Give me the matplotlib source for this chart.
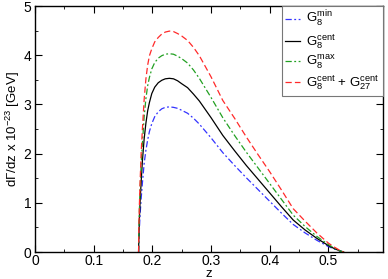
import matplotlib
matplotlib.use("Agg")
import matplotlib.pyplot as plt
from matplotlib.ticker import MultipleLocator

plt.rcParams['font.family'] = ['Liberation Sans', 'DejaVu Sans']
plt.rcParams['mathtext.fontset'] = 'custom'
plt.rcParams['mathtext.rm'] = 'Liberation Sans'
plt.rcParams['mathtext.it'] = 'Liberation Sans'

# values
z = [0.1765, 0.177, 0.178, 0.179, 0.181, 0.183, 0.186, 0.189, 0.192, 0.195,
     0.199, 0.204, 0.210, 0.216, 0.222, 0.229, 0.236, 0.243, 0.250, 0.260,
     0.270, 0.280, 0.300, 0.320, 0.340, 0.360, 0.380, 0.400, 0.420, 0.440,
     0.460, 0.480, 0.500, 0.510, 0.520, 0.526]
g8_min = [0, 0.20, 0.50, 0.75, 1.10, 1.40, 1.80, 2.07, 2.28, 2.45,
          2.61, 2.75, 2.85, 2.91, 2.94, 2.95, 2.94, 2.92, 2.88, 2.82,
          2.72, 2.60, 2.32, 2.02, 1.76, 1.51, 1.27, 1.03, 0.79, 0.56,
          0.39, 0.24, 0.11, 0.06, 0.02, 0]
g8_cent = [0, 0.30, 0.70, 1.00, 1.45, 1.85, 2.30, 2.62, 2.87, 3.04,
           3.22, 3.35, 3.44, 3.49, 3.52, 3.53, 3.52, 3.48, 3.42, 3.34,
           3.21, 3.07, 2.73, 2.37, 2.06, 1.76, 1.48, 1.20, 0.92, 0.65,
           0.45, 0.28, 0.13, 0.07, 0.02, 0]
g8_max = [0, 0.45, 0.90, 1.25, 1.80, 2.20, 2.75, 3.12, 3.38, 3.55,
          3.72, 3.85, 3.94, 3.99, 4.02, 4.03, 4.02, 3.98, 3.93, 3.84,
          3.70, 3.53, 3.14, 2.73, 2.37, 2.03, 1.71, 1.39, 1.07, 0.75,
          0.52, 0.32, 0.15, 0.08, 0.02, 0]
g8_g27 = [0, 0.50, 1.00, 1.40, 2.04, 2.50, 3.10, 3.52, 3.80, 3.99,
          4.13, 4.27, 4.36, 4.43, 4.47, 4.49, 4.48, 4.44, 4.39, 4.30,
          4.16, 3.99, 3.56, 3.08, 2.72, 2.34, 1.98, 1.63, 1.26, 0.88,
          0.63, 0.39, 0.18, 0.10, 0.03, 0]

labels = [r'$\mathregular{G_8^{min}}$', r'$\mathregular{G_8^{cent}}$',
          r'$\mathregular{G_8^{max}}$',
          r'$\mathregular{G_8^{cent}}$ + $\mathregular{G_{27}^{cent}}$']

fig = plt.figure(figsize=(3.88, 2.79), dpi=100)
ax = fig.add_axes([35/388, 1-252/279, 348/388, 246/279])

ax.plot(z, g8_min, color='#3333ff', lw=0.9, dashes=[5, 2, 1.5, 2], label=labels[0])
ax.plot(z, g8_cent, color='black', lw=0.9, label=labels[1])
ax.plot(z, g8_max, color='#22a022', lw=0.9, dashes=[5, 2, 1.5, 2], label=labels[2])
ax.plot(z, g8_g27, color='#ff2a2a', lw=0.9, dashes=[5, 2.5], label=labels[3])

ax.set_xlim(0, 0.593)
ax.set_ylim(0, 5)
ax.xaxis.set_major_locator(MultipleLocator(0.1))
ax.xaxis.set_minor_locator(MultipleLocator(0.05))
ax.yaxis.set_major_locator(MultipleLocator(1))
ax.yaxis.set_minor_locator(MultipleLocator(0.5))
ax.set_xticks([0, 0.1, 0.2, 0.3, 0.4, 0.5])
ax.set_xticklabels(['0', '0.1', '0.2', '0.3', '0.4', '0.5'])
ax.tick_params(which='both', direction='in', top=True, right=True, labelsize=10, pad=1.5)
ax.tick_params(axis='y', pad=2.5)
ax.tick_params(which='major', length=5)
ax.tick_params(which='minor', length=2.5)
for s in ax.spines.values():
    s.set_linewidth(1.0)

ax.set_xlabel('z', fontsize=9.5, labelpad=0)
ax.set_ylabel(r'd$\Gamma$/dz x 10$^{-23}$ [GeV]', fontsize=9.5, labelpad=1.5)

leg = ax.legend(loc='upper right', bbox_to_anchor=(1, 1), borderaxespad=0,
                fontsize=9.5, handlelength=1.1, fancybox=False, framealpha=1,
                edgecolor='#777777', labelspacing=0.2, borderpad=0.25,
                handletextpad=0.5)
leg.get_frame().set_linewidth(0.8)

fig.savefig('out.png', dpi=100)
